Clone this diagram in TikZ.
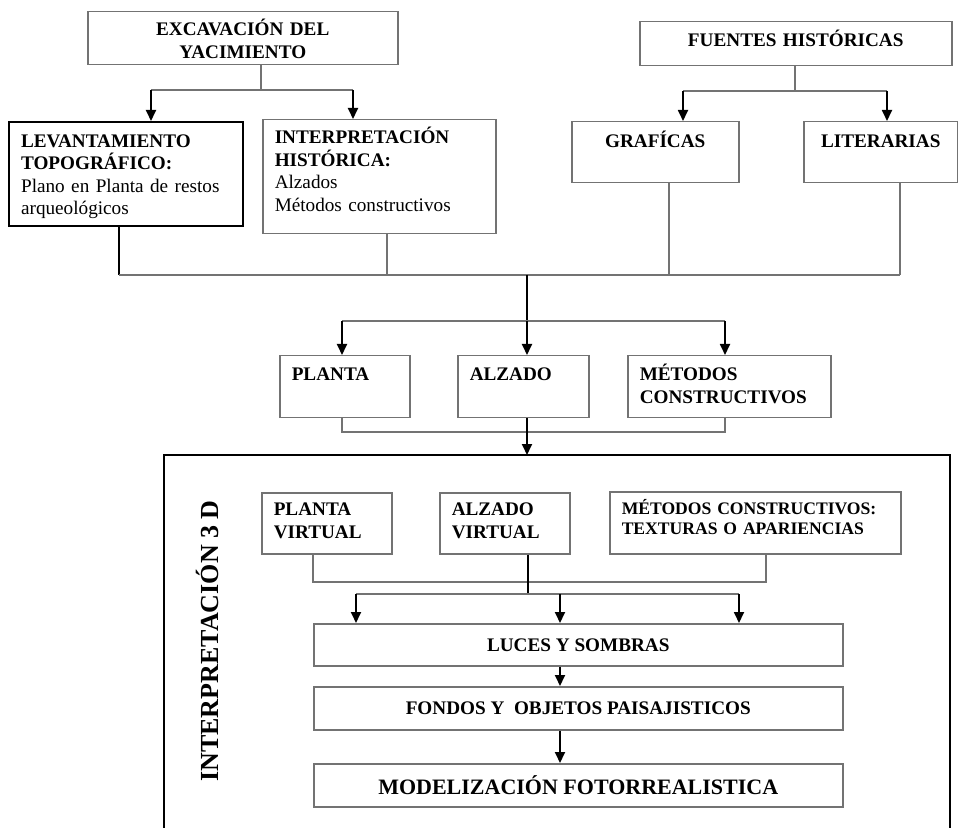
\documentclass[tikz,border=0pt]{standalone}
\usepackage{fontspec}
\setmainfont{Liberation Serif}
\usepackage{tikz}
\usetikzlibrary{arrows.meta}

\newcommand{\boxfont}{\fontsize{9.6}{11.3}\selectfont\bfseries}

\begin{document}
\begin{tikzpicture}[x=0.5pt, y=-0.5pt, >={Triangle[width=5pt,length=5.5pt]},
    box/.style={draw=black!55, line width=0.75pt, anchor=north west, inner xsep=6pt, inner ysep=0pt, align=left, font=\boxfont},
    wide/.style={draw=black!55, line width=0.75pt, anchor=north west, inner sep=0pt, minimum width=264.5pt, font=\boxfont},
    link/.style={draw=black!55, line width=0.6pt},
    trunk/.style={draw=black, line width=0.9pt},
    arrow/.style={->, draw=black, line width=0.9pt}]
    \useasboundingbox (0,0) rectangle (958,828);

    % sources
    \node[box, align=center, text width=143pt, text height=12pt, text depth=14.5pt] (exc) at (87,11) {EXCAVACIÓN DEL\\YACIMIENTO};
    \node[box, align=center, text width=144pt, text height=12.5pt, text depth=9.5pt] (fue) at (639,21) {FUENTES HISTÓRICAS};
    \node[box, draw=black, line width=1.1pt, text width=105pt, text height=12.5pt, text depth=39.5pt] (lev) at (8,121) {LEVANTAMIENTO\\TOPOGRÁFICO:\\\mdseries Plano en Planta de restos\\arqueológicos};
    \node[box, text width=104.5pt, text height=12pt, text depth=45pt] (his) at (262,119) {INTERPRETACIÓN\\HISTÓRICA:\\\mdseries Alzados\\Métodos constructivos};
    \node[box, align=center, text width=71.5pt, text height=13pt, text depth=17.5pt] (gra) at (571,121) {GRAFÍCAS};
    \node[box, align=center, text width=65pt, text height=13pt, text depth=17.5pt] (lit) at (803,121) {LITERARIAS};

    % data
    \node[box, text width=53pt, text height=12.5pt, text depth=18.5pt] (pla) at (279,355) {PLANTA};
    \node[box, text width=53.5pt, text height=12.5pt, text depth=18.5pt] (alz) at (457,355) {ALZADO};
    \node[box, text width=89.5pt, text height=12.5pt, text depth=18.5pt] (met) at (627,355) {MÉTODOS\\CONSTRUCTIVOS};

    % 3D interpretation
    \draw[trunk] (164,828) -- (164,455) -- (950,455) -- (950,828);
    \coordinate (top3d) at (527,455);
    \node[rotate=90, font=\fontsize{13}{15}\selectfont\bfseries] (lab) at (207,641) {INTERPRETACIÓN 3 D};
    \node[box, text width=53pt, text height=11.5pt, text depth=19pt] (plv) at (261,492) {PLANTA\\VIRTUAL};
    \node[box, text width=53pt, text height=11.5pt, text depth=19pt] (alv) at (439,492) {ALZADO\\VIRTUAL};
    \node[box, font=\fontsize{8.8}{9.8}\selectfont\bfseries, text width=133.5pt, text height=11.5pt, text depth=19.5pt] (tex) at (609,491) {MÉTODOS CONSTRUCTIVOS:\\TEXTURAS O APARIENCIAS};
    \node[wide, minimum height=21pt] (luz) at (313,623) {LUCES Y SOMBRAS};
    \node[wide, minimum height=21.5pt] (fon) at (313,686) {FONDOS Y\ \ OBJETOS PAISAJISTICOS};
    \node[wide, minimum height=21.5pt, font=\fontsize{11}{13}\selectfont\bfseries] (mod) at (313,763) {MODELIZACIÓN FOTORREALISTICA};

    % forks from the sources
    \coordinate (j1) at (261,90);
    \coordinate (f1l) at (151,90);
    \coordinate (f1r) at (353,90);
    \draw[link] (exc.south -| j1) -- (j1);
    \draw[link] (f1l) -- (f1r);
    \path (f1l) edge[arrow] (lev.north -| f1l)
          (f1r) edge[arrow] (his.north -| f1r);

    \coordinate (j2) at (795,91);
    \coordinate (f2l) at (683,91);
    \coordinate (f2r) at (887,91);
    \draw[link] (fue.south -| j2) -- (j2);
    \draw[link] (f2l) -- (f2r);
    \path (f2l) edge[arrow] (gra.north -| f2l)
          (f2r) edge[arrow] (lit.north -| f2r);

    % collecting line
    \coordinate (c1) at (119,275);
    \coordinate (c2) at (387,275);
    \coordinate (c3) at (669,275);
    \coordinate (c4) at (900,275);
    \coordinate (hub) at (527,275);
    \draw[trunk] (lev.south -| c1) -- (c1);
    \draw[link] (his.south -| c2) -- (c2);
    \draw[link] (gra.south -| c3) -- (c3);
    \draw[link] (lit.south -| c4) -- (c4);
    \draw[link] (c1) -- (c4);

    \coordinate (f3) at (527,321);
    \coordinate (f3l) at (342,321);
    \coordinate (f3r) at (725,321);
    \draw[trunk] (hub) -- (f3);
    \draw[link] (f3l) -- (f3r);
    \path (f3l) edge[arrow] (pla.north -| f3l)
          (f3) edge[arrow] (alz.north -| f3)
          (f3r) edge[arrow] (met.north -| f3r);

    \coordinate (g1) at (342,432);
    \coordinate (g3) at (725,432);
    \draw[link] (pla.south -| g1) -- (g1) -- (g3) -- (met.south -| g3);
    \path (alz.south -| top3d) edge[arrow] (top3d);

    % inside the 3D block
    \coordinate (h1) at (313,582);
    \coordinate (h3) at (766,582);
    \draw[link] (plv.south -| h1) -- (h1) -- (h3) -- (tex.south -| h3);
    \coordinate (k2) at (528,594);
    \coordinate (kl) at (356,594);
    \coordinate (km) at (560,594);
    \coordinate (kr) at (739,594);
    \draw[trunk] (alv.south -| k2) -- (k2);
    \draw[link] (kl) -- (kr);
    \path (kl) edge[arrow] (luz.north -| kl)
          (km) edge[arrow] (luz.north -| km)
          (kr) edge[arrow] (luz.north -| kr)
          (luz.south -| km) edge[arrow] (fon.north -| km)
          (fon.south -| km) edge[arrow] (mod.north -| km);
\end{tikzpicture}
\end{document}
